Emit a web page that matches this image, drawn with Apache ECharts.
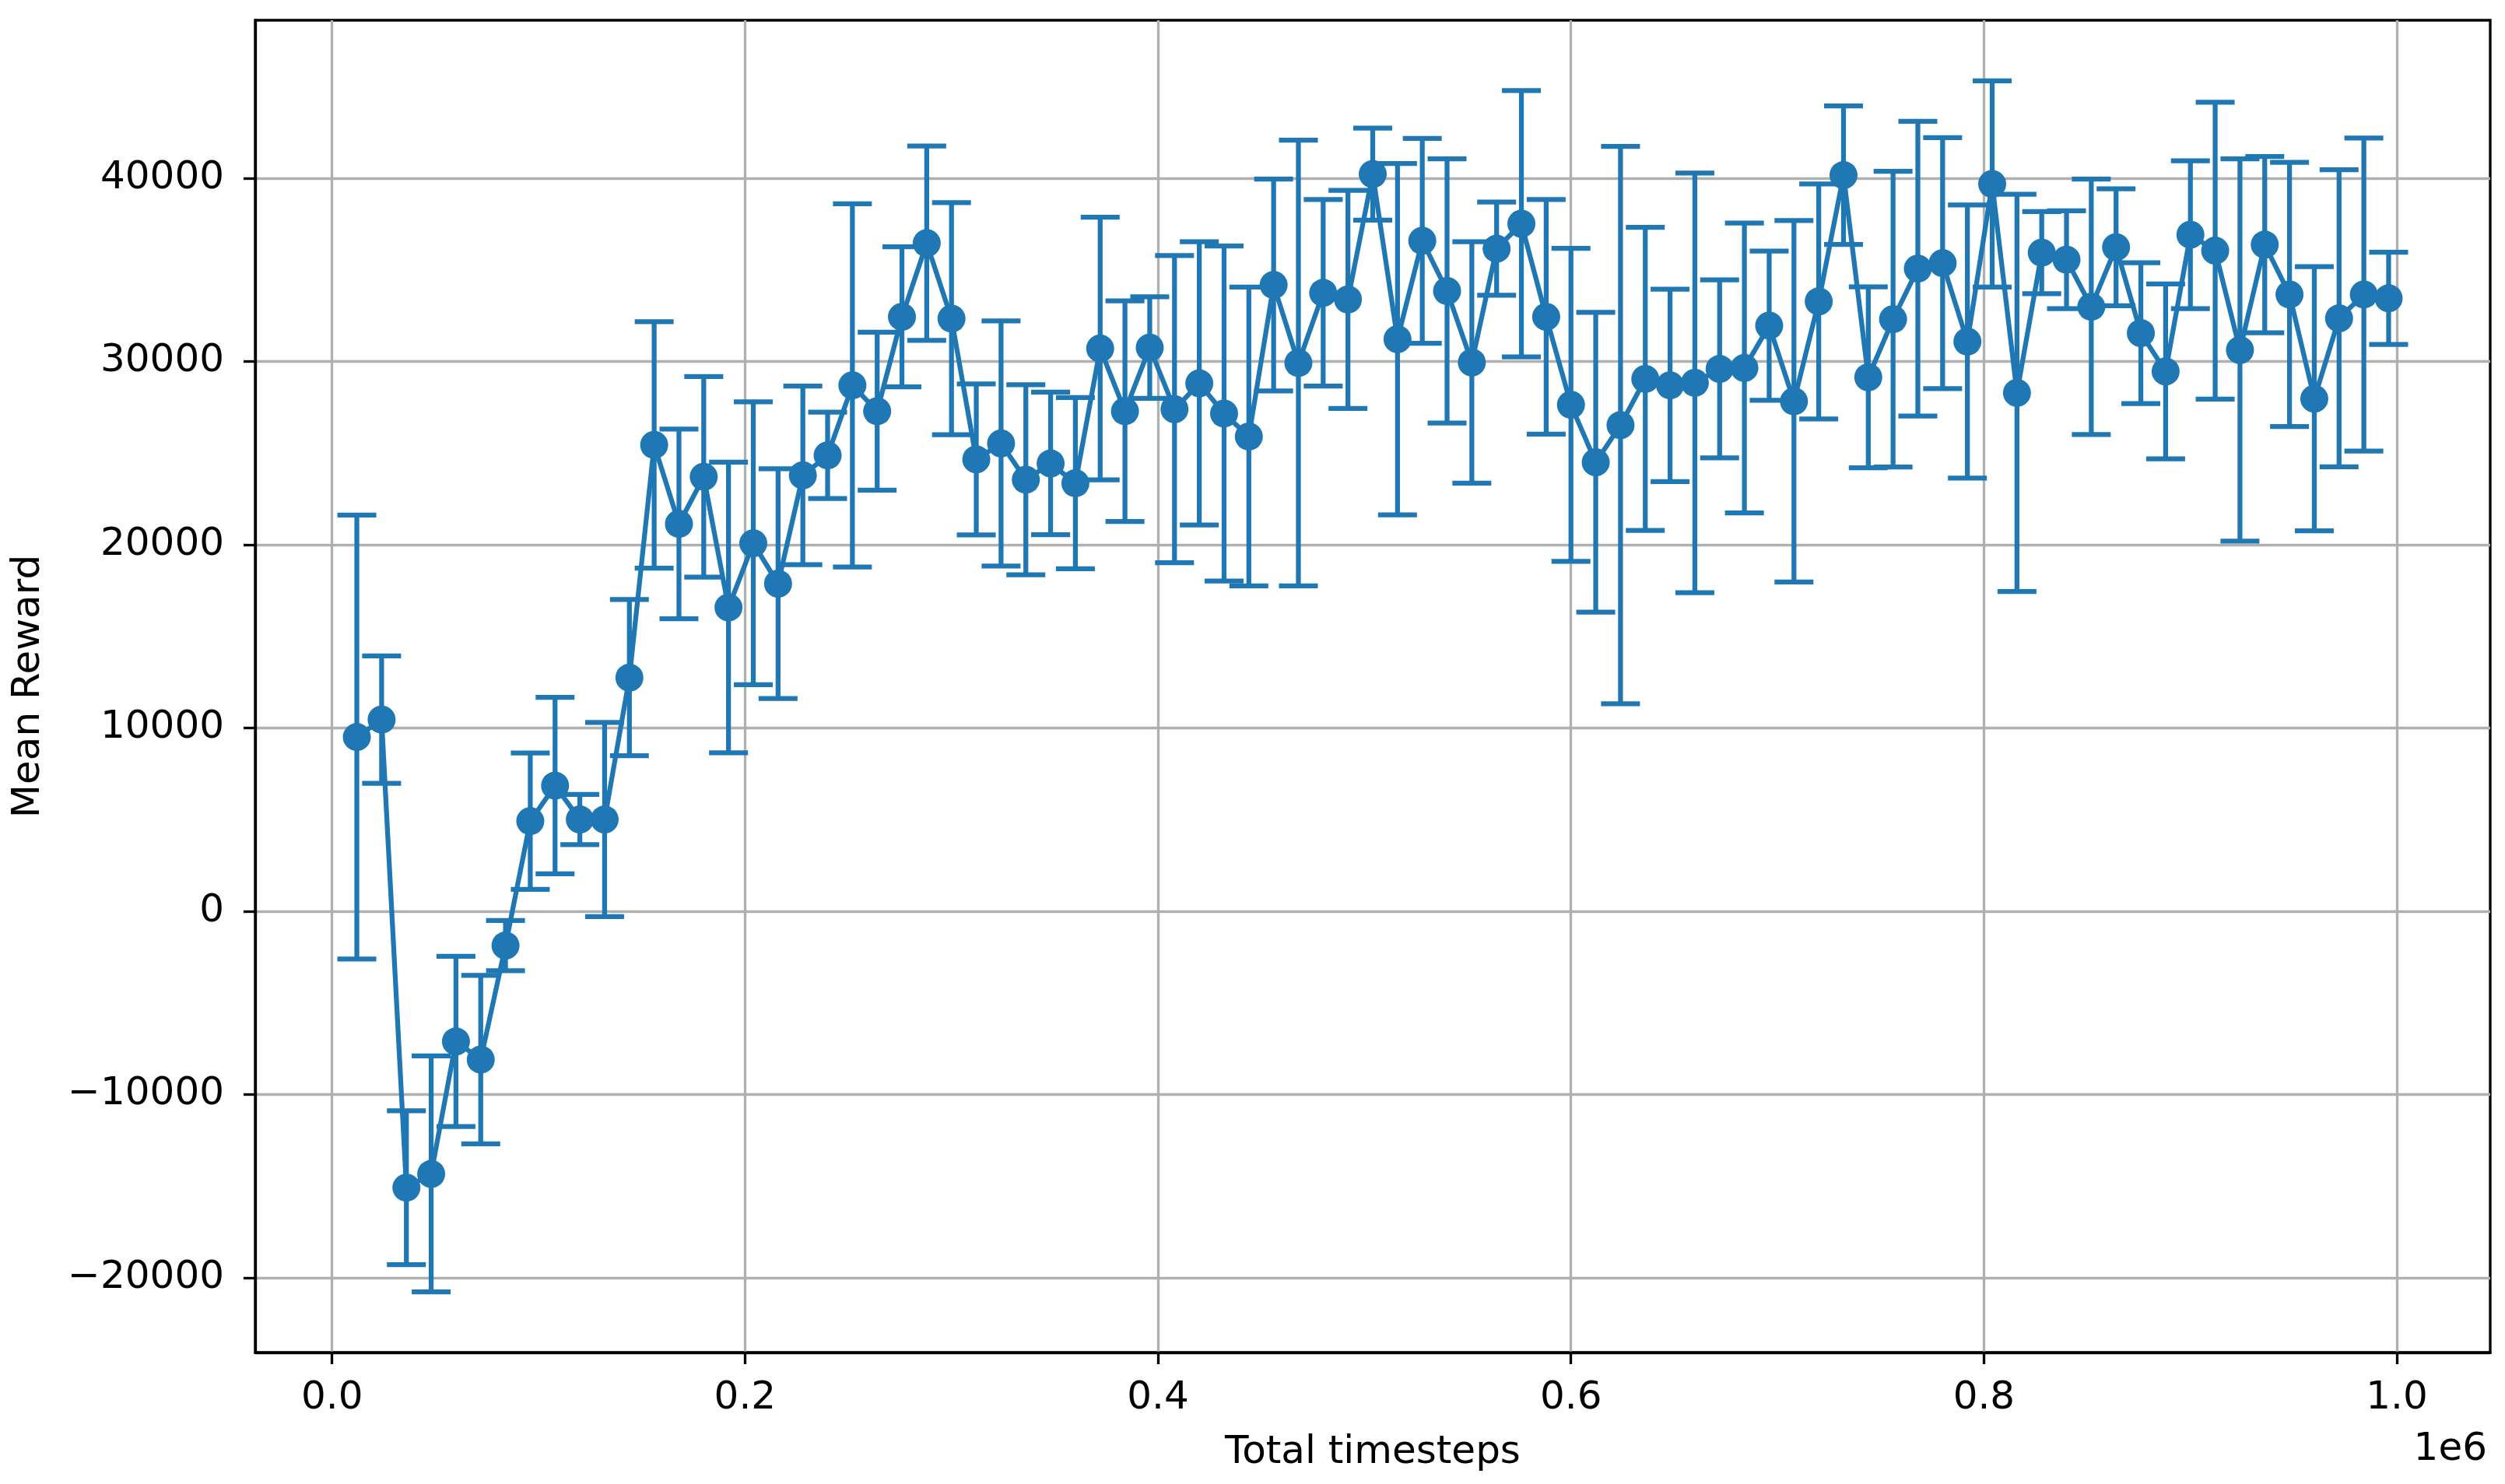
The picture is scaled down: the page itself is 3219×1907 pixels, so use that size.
<!DOCTYPE html>
<html>
<head>
<meta charset="utf-8">
<script src="https://cdn.jsdelivr.net/npm/echarts@6/dist/echarts.min.js"></script>
<style>
html,body{margin:0;padding:0;background:#ffffff;}
#chart{width:3219px;height:1907px;}
</style>
</head>
<body>
<div id="chart"></div>
<script>
// ---- data ----
const timesteps = [
  12000, 24000, 36000, 48000, 60000, 72000, 84000, 96000, 108000, 120000,
  132000, 144000, 156000, 168000, 180000, 192000, 204000, 216000, 228000, 240000,
  252000, 264000, 276000, 288000, 300000, 312000, 324000, 336000, 348000, 360000,
  372000, 384000, 396000, 408000, 420000, 432000, 444000, 456000, 468000, 480000,
  492000, 504000, 516000, 528000, 540000, 552000, 564000, 576000, 588000, 600000,
  612000, 624000, 636000, 648000, 660000, 672000, 684000, 696000, 708000, 720000,
  732000, 744000, 756000, 768000, 780000, 792000, 804000, 816000, 828000, 840000,
  852000, 864000, 876000, 888000, 900000, 912000, 924000, 936000, 948000, 960000,
  972000, 984000, 996000
];
const meanReward = [
  9500, 10450, -15090, -14340, -7110, -8100, -1880, 4910, 6850, 5000,
  5000, 12740, 25440, 21130, 23700, 16570, 20070, 17870, 23780, 24870,
  28690, 27280, 32430, 36450, 32330, 24650, 25520, 23540, 24430, 23350,
  30700, 27280, 30750, 27390, 28800, 27150, 25900, 34170, 29910, 33740,
  33380, 40220, 31210, 36580, 33840, 29940, 36150, 37510, 32430, 27630,
  24490, 26520, 29040, 28690, 28830, 29590, 29640, 31950, 27820, 33270,
  40160, 29130, 32300, 35060, 35360, 31080, 39680, 28280, 35930, 35550,
  32980, 36230, 31540, 29450, 36910, 36040, 30620, 36370, 33650, 27960,
  32350, 33650, 33440
];
const rewardStd = [
  12110, 3480, 4200, 6440, 4640, 4600, 1370, 3720, 4810, 1370,
  5300, 4260, 6730, 5180, 5470, 7930, 7720, 6270, 4870, 2360,
  9910, 4310, 3820, 5300, 6330, 4120, 6690, 5190, 3890, 4670,
  7170, 6020, 2770, 8380, 7730, 9140, 8150, 5780, 12160, 5090,
  5950, 2510, 9590, 5590, 7210, 6590, 2540, 7270, 6400, 8540,
  8180, 15210, 8270, 5250, 11450, 4860, 7910, 4070, 9860, 6410,
  3780, 4940, 8070, 8040, 6850, 7450, 5630, 10840, 2240, 2670,
  6970, 3190, 3840, 4770, 4030, 8100, 10430, 4810, 7210, 7210,
  8110, 8540, 2520
];
const xTickValues = [0, 200000, 400000, 600000, 800000, 1000000];
const yTickValues = [-20000, -10000, 0, 10000, 20000, 30000, 40000];

// ---- styling ----
const BLUE = '#1f77b4';
const FONT = 'DejaVu Sans';
const LW = 6.25;       // 1.5pt at 300 dpi
const SPINE = 3.33;    // 0.8pt at 300 dpi

// matplotlib-like auto limits (5% margins)
const lows = meanReward.map((m, i) => m - rewardStd[i]);
const highs = meanReward.map((m, i) => m + rewardStd[i]);
const yLo = Math.min(...lows), yHi = Math.max(...highs);
const yPad = 0.05 * (yHi - yLo);
const xLo = Math.min(...timesteps), xHi = Math.max(...timesteps);
const xPad = 0.05 * (xHi - xLo);

const lineData = timesteps.map((t, i) => [t, meanReward[i]]);
const errData = timesteps.map((t, i) => [t, lows[i], highs[i]]);

function yFmt(v) {
  if (Math.abs(v % 10000) > 1e-6) return '';
  return v < 0 ? '\u2212' + Math.abs(v) : String(v);
}
function xFmt(v) {
  return (v / 1e6).toFixed(1);
}

const chart = echarts.init(document.getElementById('chart'), null, {renderer: 'canvas'});
chart.setOption({
  animation: false,
  backgroundColor: '#ffffff',
  textStyle: {fontFamily: FONT},
  grid: {
    left: 328, right: 19, top: 26, bottom: 169,
    containLabel: false,
    show: true,
    borderColor: '#000000',
    borderWidth: SPINE,
    backgroundColor: 'transparent'
  },
  xAxis: {
    type: 'value',
    min: xLo - xPad,
    max: xHi + xPad,
    name: 'Total timesteps',
    nameLocation: 'middle',
    nameGap: 104,
    nameTextStyle: {fontFamily: FONT, fontSize: 50, color: '#000000'},
    axisLine: {show: true, onZero: false, lineStyle: {color: '#000000', width: SPINE}},
    axisTick: {show: true, length: 15, inside: false, customValues: xTickValues,
               lineStyle: {color: '#000000', width: SPINE}},
    axisLabel: {show: true, customValues: xTickValues, formatter: xFmt, margin: 34,
                fontFamily: FONT, fontSize: 50, color: '#000000'},
    splitLine: {show: true, lineStyle: {color: '#b0b0b0', width: SPINE}}
  },
  yAxis: {
    type: 'value',
    min: yLo - yPad,
    max: yHi + yPad,
    name: 'Mean Reward',
    nameLocation: 'middle',
    nameGap: 266,
    nameTextStyle: {fontFamily: FONT, fontSize: 50, color: '#000000'},
    axisLine: {show: true, onZero: false, lineStyle: {color: '#000000', width: SPINE}},
    axisTick: {show: true, length: 15, inside: false, customValues: yTickValues,
               lineStyle: {color: '#000000', width: SPINE}},
    axisLabel: {show: true, customValues: yTickValues, formatter: yFmt, margin: 40,
                fontFamily: FONT, fontSize: 50, color: '#000000'},
    splitLine: {show: true, lineStyle: {color: '#b0b0b0', width: SPINE}}
  },
  graphic: [{
    type: 'text',
    right: 23,
    top: 1838,
    style: {text: '1e6', fontFamily: FONT, fontSize: 50, fill: '#000000'}
  }],
  series: [
    {
      type: 'custom',
      name: 'std',
      data: errData,
      z: 2,
      silent: true,
      encode: {x: 0, y: [1, 2]},
      renderItem: function (params, api) {
        const x = api.value(0);
        const lo = api.coord([x, api.value(1)]);
        const hi = api.coord([x, api.value(2)]);
        const cap = 25;
        const st = {stroke: BLUE, lineWidth: LW, fill: null};
        return {
          type: 'group',
          children: [
            {type: 'line', shape: {x1: lo[0], y1: lo[1], x2: hi[0], y2: hi[1]}, style: st},
            {type: 'line', shape: {x1: lo[0] - cap, y1: lo[1], x2: lo[0] + cap, y2: lo[1]}, style: st},
            {type: 'line', shape: {x1: hi[0] - cap, y1: hi[1], x2: hi[0] + cap, y2: hi[1]}, style: st}
          ]
        };
      }
    },
    {
      type: 'line',
      name: 'mean',
      data: lineData,
      z: 3,
      symbol: 'circle',
      symbolSize: 36,
      showSymbol: true,
      showAllSymbol: true,
      silent: true,
      itemStyle: {color: BLUE, borderWidth: 0},
      lineStyle: {color: BLUE, width: LW},
      emphasis: {disabled: true}
    }
  ]
});
</script>
</body>
</html>
